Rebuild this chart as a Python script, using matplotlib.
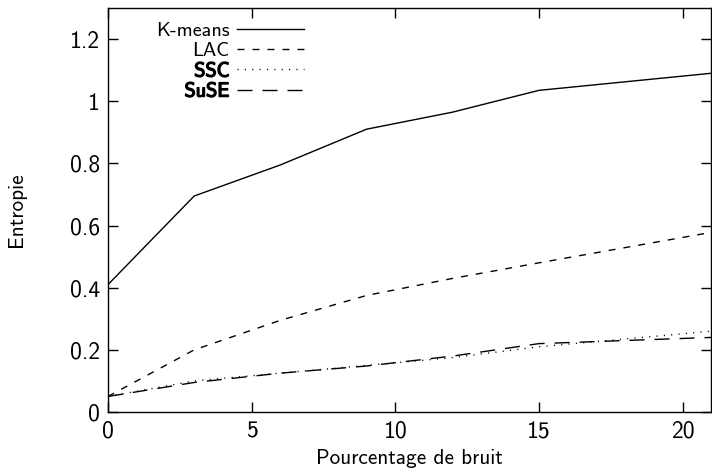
import matplotlib
matplotlib.use("Agg")
import matplotlib.pyplot as plt
import matplotlib.patheffects as pe
from matplotlib.ticker import FuncFormatter

plt.rcParams['font.family'] = ['cmss10', 'DejaVu Sans']
plt.rcParams['axes.unicode_minus'] = False
plt.rcParams['lines.scale_dashes'] = False

noise = [0, 3, 6, 9, 12, 15, 21]
kmeans = [0.41, 0.695, 0.795, 0.91, 0.965, 1.035, 1.09]
lac = [0.05, 0.20, 0.295, 0.375, 0.43, 0.48, 0.578]
ssc = [0.05, 0.10, 0.125, 0.15, 0.175, 0.21, 0.26]
suse = [0.05, 0.095, 0.125, 0.148, 0.18, 0.22, 0.24]

labels = ["K-means", "LAC", "SSC", "SuSE"]
xticks = [0, 5, 10, 15, 20]
yticks = [0, 0.2, 0.4, 0.6, 0.8, 1.0, 1.2]

fig = plt.figure(figsize=(7.12, 4.72), dpi=100)
ax = fig.add_axes([108/712, 60/472, 1 - 108/712 - 0.001, (412-8)/472])

lw = 1.0
ax.plot(noise, kmeans, color='black', lw=lw, label=labels[0])
ax.plot(noise, lac, color='black', lw=lw, dashes=(5, 5.8), label=labels[1])
ax.plot(noise, ssc, color='black', lw=lw, dashes=(0.8, 4.5), label=labels[2])
ax.plot(noise, suse, color='black', lw=lw, dashes=(10.8, 7.2), label=labels[3])

ax.set_xlim(0, 21)
ax.set_ylim(0, 1.3)
ax.set_xticks(xticks)
ax.set_yticks(yticks)
ax.yaxis.set_major_formatter(FuncFormatter(lambda v, p: f"{v:g}"))
ax.tick_params(direction='in', length=7, width=1, top=True, right=True,
               labelsize=17, pad=6)
for s in ax.spines.values():
    s.set_linewidth(1)

ax.set_xlabel("Pourcentage de bruit", fontsize=15.3, labelpad=5)
ax.set_ylabel("Entropie", fontsize=15.3, labelpad=31)

leg = ax.legend(loc='upper right', bbox_to_anchor=((304-108)/604, 0.965), frameon=False,
                markerfirst=False, fontsize=14.5, handlelength=3.3,
                handletextpad=0.4, labelspacing=0.1, borderaxespad=0, borderpad=0)
for t in leg.get_texts():
    if t.get_text() in ("SSC", "SuSE"):
        t.set_path_effects([pe.withStroke(linewidth=1.0, foreground='black')])

fig.savefig("out.png", dpi=100)
